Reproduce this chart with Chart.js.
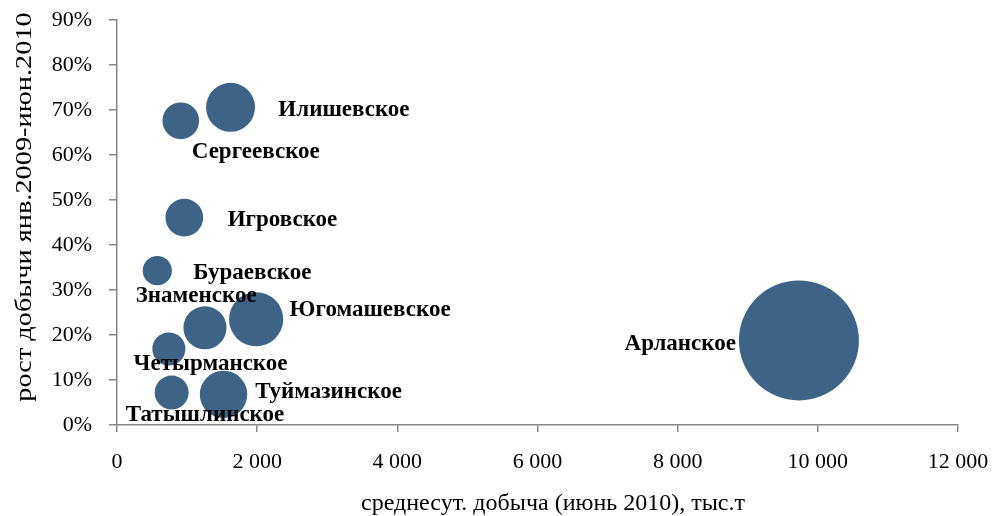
<!DOCTYPE html>
<html>
<head>
<meta charset="utf-8">
<script src="https://cdn.jsdelivr.net/npm/chart.js@4"></script>
<style>
  html, body { margin: 0; padding: 0; background: #ffffff; }
  #wrap { width: 995px; height: 516px; position: relative; }
</style>
</head>
<body>
<div id="wrap"><canvas id="chart" width="995" height="516"></canvas></div>
<script>
// Oil fields: daily production (June 2010, thousand t) vs production growth Jan 2009 – Jun 2010
const fields = ['Арланское', 'Югомашевское', 'Илишевское', 'Туймазинское', 'Знаменское',
                'Игровское', 'Сергеевское', 'Татышлинское', 'Четырманское', 'Бураевское'];
const dailyProduction = [9730, 1985, 1620, 1520, 1255, 960, 910, 780, 740, 575];
const growthPercent = [18.8, 23.5, 70.6, 6.8, 21.6, 46.1, 67.6, 7.2, 16.9, 34.3];
// bubble size value (area) – the production itself
const bubbleSize = [9730, 1985, 1620, 1520, 1255, 960, 910, 780, 740, 575];

const xTicks = [0, 2000, 4000, 6000, 8000, 10000, 12000];
const yTicks = [0, 10, 20, 30, 40, 50, 60, 70, 80, 90];

const xTitle = 'среднесут. добыча (июнь 2010), тыс.т';
const yTitle = 'рост добычи янв.2009-июн.2010';

// label placement relative to bubble centre: [dx, dy, align]
const labelPlacement = [
  [-63, 3.5, 'right'],
  [33.5, -8.7, 'left'],
  [47.8, 2.8, 'left'],
  [31.8, -2.2, 'left'],
  [-8.8, -31.7, 'center'],
  [43.4, 2.5, 'left'],
  [11, 31.2, 'left'],
  [33.3, 22, 'center'],
  [41.7, 15.5, 'center'],
  [36, 2.8, 'left']
];

const MAX_RADIUS = 60;
const maxSize = Math.max(...bubbleSize);
const AXIS_COLOR = '#868686';
const SERIF = '"Liberation Serif", "Times New Roman", serif';

const points = fields.map((f, i) => ({
  x: dailyProduction[i],
  y: growthPercent[i],
  r: MAX_RADIUS * Math.sqrt(bubbleSize[i] / maxSize)
}));

const fmtThousands = v => {
  const s = String(Math.round(v));
  return s.length > 3 ? s.slice(0, -3) + ' ' + s.slice(-3) : s;
};

const bubbleLabels = {
  id: 'bubbleLabels',
  afterDatasetsDraw(chart) {
    const ctx = chart.ctx;
    const meta = chart.getDatasetMeta(0);
    ctx.save();
    ctx.font = 'bold 23px ' + SERIF;
    ctx.fillStyle = '#000000';
    ctx.textBaseline = 'middle';
    meta.data.forEach((el, i) => {
      const [dx, dy, align] = labelPlacement[i];
      ctx.textAlign = align;
      ctx.fillText(fields[i], el.x + dx, el.y + dy);
    });
    ctx.restore();
  }
};

const axisTitles = {
  id: 'axisTitles',
  afterDraw(chart) {
    const ctx = chart.ctx;
    ctx.save();
    ctx.fillStyle = '#000000';
    ctx.textAlign = 'center';
    ctx.textBaseline = 'middle';
    ctx.font = '24px ' + SERIF;
    ctx.fillText(xTitle, 553, 504);
    ctx.translate(25, 207);
    ctx.rotate(-Math.PI / 2);
    ctx.scale(1.18, 1);
    ctx.font = '24px ' + SERIF;
    ctx.fillText(yTitle, 0, 0);
    ctx.restore();
  }
};

new Chart(document.getElementById('chart'), {
  type: 'bubble',
  data: {
    datasets: [{
      data: points,
      backgroundColor: '#3d6387',
      borderWidth: 0,
      hoverBorderWidth: 0
    }]
  },
  options: {
    responsive: false,
    animation: false,
    events: [],
    layout: { autoPadding: false, padding: { top: 20, right: 37, left: 0, bottom: 0 } },
    plugins: { legend: { display: false }, tooltip: { enabled: false } },
    scales: {
      x: {
        type: 'linear',
        min: 0,
        max: 12000,
        z: 1,
        afterBuildTicks: s => { s.ticks = xTicks.map(v => ({ value: v })); },
        afterFit: s => { s.height = 91; s.paddingLeft = 0; s.paddingRight = 0; },
        border: { display: true, color: AXIS_COLOR, width: 1.5 },
        grid: { drawOnChartArea: false, drawTicks: true, tickLength: 7, color: AXIS_COLOR, lineWidth: 1.5 },
        ticks: {
          color: '#000000',
          font: { family: SERIF, size: 22 },
          padding: 17,
          maxRotation: 0,
          autoSkip: false,
          callback: v => fmtThousands(v)
        }
      },
      y: {
        type: 'linear',
        min: 0,
        max: 90,
        z: 1,
        afterBuildTicks: s => { s.ticks = yTicks.map(v => ({ value: v })); },
        afterFit: s => { s.width = 117; s.paddingTop = 0; s.paddingBottom = 0; },
        border: { display: true, color: AXIS_COLOR, width: 1.5 },
        grid: { drawOnChartArea: false, drawTicks: true, tickLength: 8, color: AXIS_COLOR, lineWidth: 1.5 },
        ticks: {
          color: '#000000',
          font: { family: SERIF, size: 22 },
          padding: 17,
          autoSkip: false,
          callback: v => v + '%'
        }
      }
    }
  },
  plugins: [bubbleLabels, axisTitles]
});
</script>
</body>
</html>
